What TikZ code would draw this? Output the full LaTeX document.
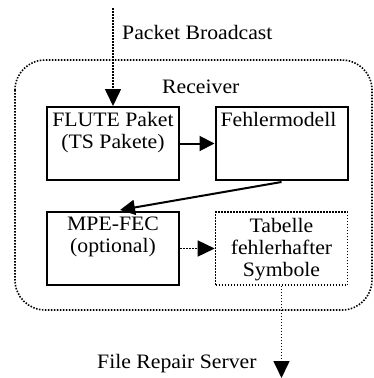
\documentclass[tikz,border=0pt]{standalone}
\usepackage{fontspec}
\setmainfont[FakeStretch=1.06]{Liberation Serif}
\usetikzlibrary{arrows.meta}
\tikzset{
  box/.style={draw, line width=2pt, minimum width=132pt, minimum height=73pt, inner sep=0pt},
  dbox/.style={draw, line width=1.6pt, dash pattern=on 1.5pt off 1.5pt, minimum width=132pt, minimum height=73pt, inner sep=0pt},
  txt/.style={font=\fontsize{20.5}{22}\selectfont, align=center, inner sep=0pt},
  sarrow/.style={line width=2pt, -{Triangle[length=15pt,width=15pt]}},
  darrow/.style={line width=1.6pt, dash pattern=on 1.5pt off 1.5pt, -{Triangle[length=17pt,width=16pt]}},
  outer/.style={line width=1.6pt, dash pattern=on 1.5pt off 1.5pt, rounded corners=30pt}
}
\begin{document}
\begin{tikzpicture}[x=1pt,y=-1pt]
\useasboundingbox (0,0) rectangle (374,378);
\draw[outer] (15,60) rectangle (372,310);
\node[box] (flute) at (113,143.5) {};
\node[box] (fehler) at (281.5,143.5) {};
\node[box] (mpe) at (113,248.5) {};
\node[dbox] (tab) at (281.5,248.5) {};
\node[txt, anchor=north] (flutet) at ([yshift=-6pt]flute.north) {FLUTE Paket\\(TS Pakete)};
\node[txt, anchor=north] (fehlert) at ([xshift=-3pt,yshift=-6pt]fehler.north) {Fehlermodell};
\node[txt, anchor=north] (mpet) at ([yshift=-6pt]mpe.north) {MPE-FEC\\(optional)};
\node[txt, anchor=north] (tabt) at ([yshift=-7pt]tab.north) {Tabelle\\fehlerhafter\\Symbole};
\node[txt, anchor=base west] (pb) at (122,39) {Packet Broadcast};
\node[txt, anchor=base west] (rec) at (162,93) {Receiver};
\node[txt, anchor=base west] (frs) at (97,368) {File Repair Server};
\coordinate (topin) at (113,8);
\coordinate (botout) at (281.5,378);
\draw[darrow] (topin) -- (flute.north);
\draw[sarrow] (flute.east) -- (fehler.west);
\draw[sarrow] ([yshift=-1pt]fehler.south) -- ([xshift=7pt,yshift=1pt]mpe.north);
\draw[darrow] (mpe.east) -- (tab.west);
\draw[darrow] (tab.south) -- (botout);
\end{tikzpicture}
\end{document}
